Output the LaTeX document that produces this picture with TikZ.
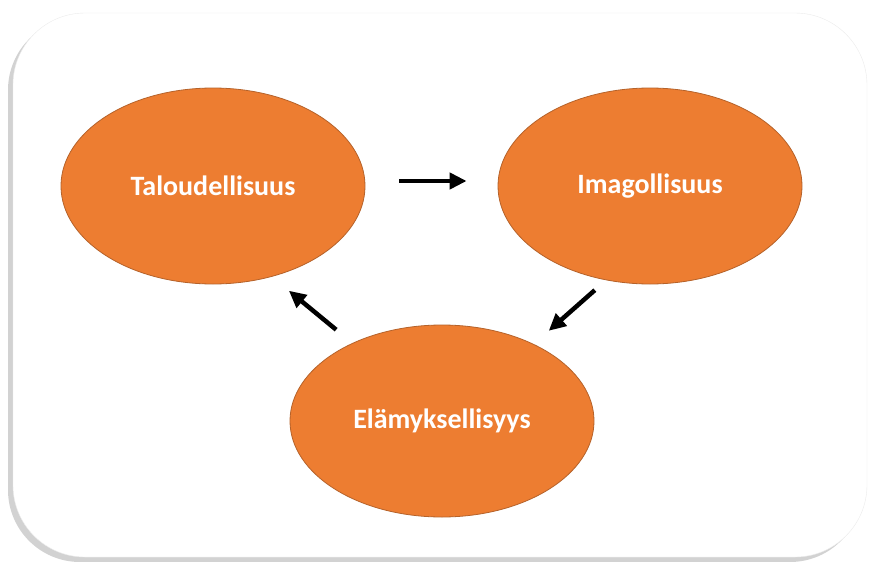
\documentclass[tikz,border=0pt]{standalone}
\usepackage{fontspec}
\setmainfont{Carlito}
\usetikzlibrary{shapes.geometric,shadows,arrows.meta}
\definecolor{oranssi}{HTML}{ED7D31}
\definecolor{reuna}{HTML}{B5622A}

\tikzset{
  pallo/.style={ellipse, fill=oranssi, draw=reuna, line width=0.8pt,
    minimum width=304pt, minimum height=196pt, text=white, inner sep=0pt,
    font=\bfseries\fontsize{28}{32}\selectfont},
  nuoli/.style={line width=4.5pt, -{Triangle[length=17pt,width=16pt]}}
}

\begin{document}
\begin{tikzpicture}[x=1pt,y=-1pt]
\useasboundingbox (0,0) rectangle (870,562);
\draw[black!8, fill=white, rounded corners=72pt,
  drop shadow={shadow xshift=-5pt, shadow yshift=-5pt, fill=black!35, opacity=0.5}]
  (13,13) rectangle (867,557);
\node[pallo] (tal) at (213,186) {Taloudellisuus};
\node[pallo] (ima) at (650,186) {Imagollisuus};
\node[pallo, minimum height=192pt] (ela) at (442,421) {Elämyksellisyys};
\draw[nuoli, shorten <=34pt, shorten >=31pt] ([yshift=5pt]tal.east) -- ([yshift=5pt]ima.west);
\draw[nuoli, shorten <=15pt, shorten >=20pt] (ima.245) -- (ela.40);
\draw[nuoli, shorten <=21pt, shorten >=22pt] (ela.139) -- (tal.303);
\end{tikzpicture}
\end{document}
